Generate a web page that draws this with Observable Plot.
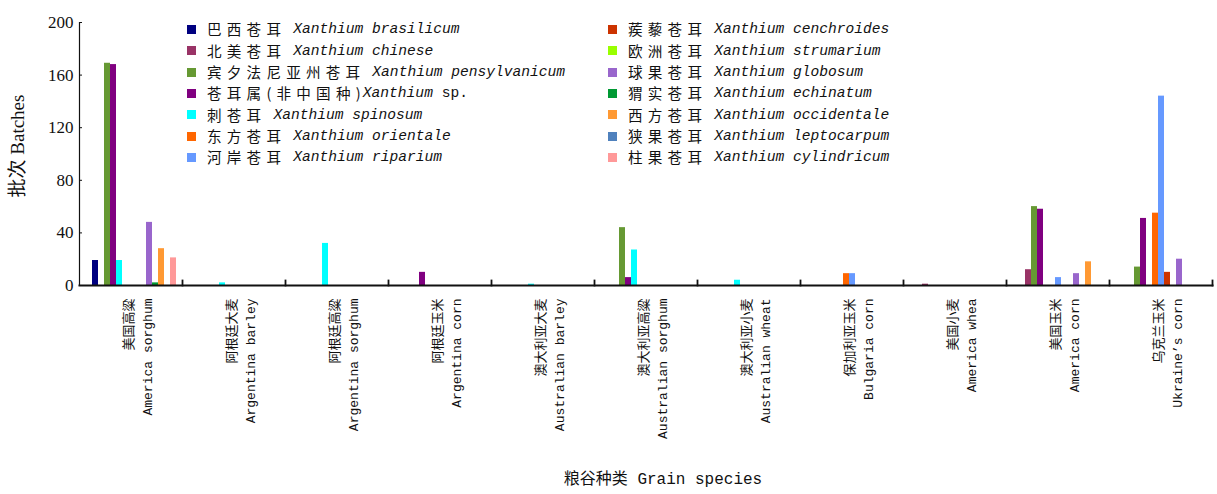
<!DOCTYPE html>
<html>
<head>
<meta charset="utf-8">
<script src="https://cdn.jsdelivr.net/npm/d3@7"></script>
<script src="https://cdn.jsdelivr.net/npm/@observablehq/plot@0.6"></script>
<style>
  html, body { margin: 0; padding: 0; background: #fff; }
  #wrap { position: relative; width: 1217px; height: 494px; }
  .legend { position: absolute; top: 19px; display: flex; flex-direction: column; }
  .legend .row { height: 21.3px; display: flex; align-items: center; white-space: nowrap; line-height: 1; }
  .legend .sw { width: 9px; height: 9px; margin-right: 11px; flex: none; }
  .legend .cn { font-family: "Noto Sans CJK SC", sans-serif; font-size: 14.6px; letter-spacing: 5.2px; color: #111; line-height: 1; }
  .legend .la { font-family: "Liberation Mono", monospace; font-size: 14.6px; font-style: italic; color: #111; line-height: 1; }
  .legend .up { font-style: normal; }
</style>
</head>
<body>
<div id="wrap"></div>
<script>
// Categories (grain species), Chinese and English tick labels
const catCN = ["美国高粱","阿根廷大麦","阿根廷高粱","阿根廷玉米","澳大利亚大麦","澳大利亚高粱","澳大利亚小麦","保加利亚玉米","美国小麦","美国玉米","乌克兰玉米"];
const catEN = ["America sorghum","Argentina barley","Argentina sorghum","Argentina corn","Australian barley","Australian sorghum","Australian wheat","Bulgaria corn","America whea","America corn","Ukraine’s corn"];

// Series (Xanthium species)
const seriesCN = ["巴西苍耳","北美苍耳","宾夕法尼亚州苍耳","苍耳属(非中国种)","刺苍耳","东方苍耳","河岸苍耳","蒺藜苍耳","欧洲苍耳","球果苍耳","猬实苍耳","西方苍耳","狭果苍耳","柱果苍耳"];
const seriesLA = ["Xanthium brasilicum","Xanthium chinese","Xanthium pensylvanicum","Xanthium sp.","Xanthium spinosum","Xanthium orientale","Xanthium riparium","Xanthium cenchroides","Xanthium strumarium","Xanthium globosum","Xanthium echinatum","Xanthium occidentale","Xanthium leptocarpum","Xanthium cylindricum"];
const seriesColors = ["#000080","#993366","#669933","#800080","#00ffff","#ff6600","#6699ff","#cc3300","#99ff00","#9966cc","#009933","#ff9933","#4f81bd","#ff9999"];

// Batches per grain category (same order as categories)
const brasilicum    = [19,0,0,0,0,0,0,0,0,0,0];
const chinese       = [0,0,0,0,0,0,0,0,1,12,0];
const pensylvanicum = [169,0,0,0,0,44,0,0,0,60,14];
const spp           = [168,0,0,10,0,6,0,0,0,58,51];
const spinosum      = [19,2,32,0,1,27,4,0,0,0,0];
const orientale     = [0,0,0,0,0,0,0,9,0,0,55];
const riparium      = [0,0,0,0,0,0,0,9,0,6,144];
const cenchroides   = [0,0,0,0,0,0,0,0,0,0,10];
const strumarium    = [0,0,0,0,0,0,0,0,0,0,0];
const globosum      = [48,0,0,0,0,0,0,0,0,9,20];
const echinatum     = [2,0,0,0,0,0,0,0,0,0,0];
const occidentale   = [28,0,0,0,0,0,0,0,0,18,0];
const leptocarpum   = [0,0,0,0,0,0,0,0,0,0,0];
const cylindricum   = [21,0,0,0,0,0,0,0,0,0,0];

const yTicks = [0,40,80,120,160,200];
const yTitle = "批次 Batches";
const xTitle = "粮谷种类 Grain species";

const seriesValues = [brasilicum,chinese,pensylvanicum,spp,spinosum,orientale,riparium,cenchroides,strumarium,globosum,echinatum,occidentale,leptocarpum,cylindricum];
const rows = [];
seriesValues.forEach((vals, s) => vals.forEach((v, c) => {
  if (v > 0) rows.push({cat: catCN[c], series: seriesLA[s], value: v});
}));
const catLabel = new Map(catCN.map((c, i) => [c, c + "\n" + catEN[i]]));

const mono = "'Liberation Mono', 'Noto Sans CJK SC', monospace";
const serif = "'Liberation Serif', 'Noto Sans CJK SC', serif";

const chart = Plot.plot({
  width: 1217,
  height: 494,
  marginLeft: 79,
  marginRight: 5,
  marginTop: 22,
  marginBottom: 209,
  style: {background: "#fff", color: "#111"},
  fx: {domain: catCN, padding: 0, label: null},
  x: {domain: seriesLA, paddingInner: 0, paddingOuter: 0.75, align: 0.7, axis: null},
  y: {domain: [0, 200], label: null},
  color: {domain: seriesLA, range: seriesColors},
  marks: [
    Plot.barY(rows, {fx: "cat", x: "series", y: "value", fill: "series", inset: 0}),
    Plot.frame({anchor: "right", insetTop: 258, stroke: "#111", strokeWidth: 1.8}),
    Plot.frame({anchor: "bottom", facet: "super", stroke: "#111", strokeWidth: 2}),
    Plot.frame({anchor: "left", facet: "super", stroke: "#111", strokeWidth: 1.2}),
    Plot.axisY({ticks: yTicks, tickSize: -3, tickPadding: 9, fontSize: 17, fontFamily: serif, label: null}),
    Plot.axisFx({anchor: "bottom", tickSize: 0, tickRotate: -90, tickPadding: 13, fontSize: 13, fontFamily: mono,
      lineHeight: 1.5, dx: 5, tickFormat: d => catLabel.get(d), label: null}),
    Plot.text([yTitle], {facet: "super", frameAnchor: "left", textAnchor: "middle", rotate: -90, dx: -62, dy: -8,
      fontSize: 19, fontFamily: serif, fill: "#111"}),
    Plot.text([xTitle], {facet: "super", frameAnchor: "bottom", dx: 17, dy: 198,
      fontSize: 16, fontFamily: mono, fill: "#111"})
  ]
});

const wrap = document.getElementById("wrap");
wrap.appendChild(chart);

// Legend: two columns inside the plot area
const cols = [{left: 187, items: [0,1,2,3,4,5,6]}, {left: 608, items: [7,8,9,10,11,12,13]}];
for (const col of cols) {
  const div = document.createElement("div");
  div.className = "legend";
  div.style.left = col.left + "px";
  for (const i of col.items) {
    const row = document.createElement("div");
    row.className = "row";
    const sw = document.createElement("span");
    sw.className = "sw";
    sw.style.background = seriesColors[i];
    row.appendChild(sw);
    const cn = document.createElement("span");
    cn.className = "cn";
    cn.textContent = seriesCN[i];
    row.appendChild(cn);
    const la = document.createElement("span");
    la.className = "la";
    if (seriesLA[i].endsWith("sp.")) {
      la.innerHTML = "Xanthium <span class='up'>sp.</span>";
      la.style.marginLeft = "-3px";
    } else {
      la.textContent = seriesLA[i];
      la.style.marginLeft = "7px";
    }
    row.appendChild(la);
    div.appendChild(row);
  }
  wrap.appendChild(div);
}
</script>
</body>
</html>
